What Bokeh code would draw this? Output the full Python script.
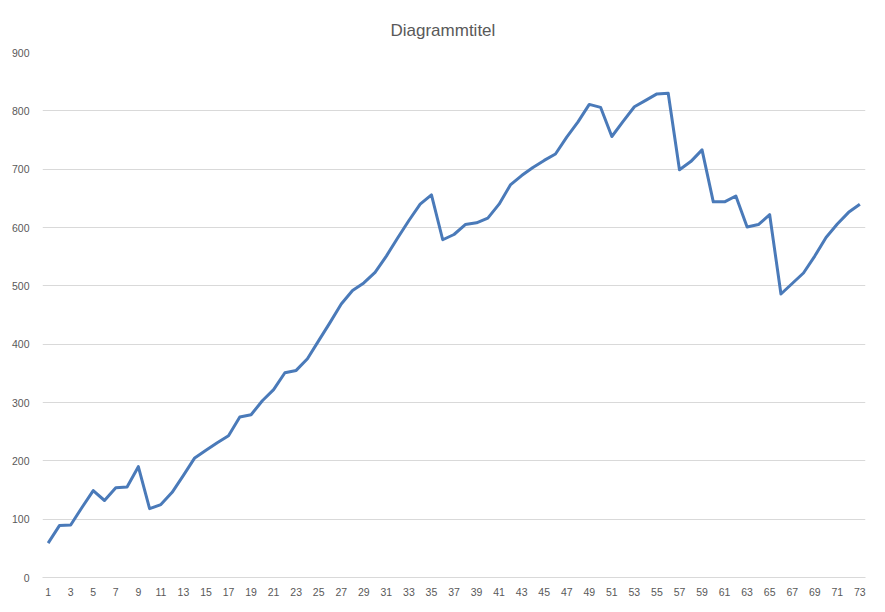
from bokeh.plotting import figure
from bokeh.models import FixedTicker, Range1d, Title
from bokeh.embed import file_html
from bokeh.resources import INLINE

# ---- data ----
categories = [1, 2, 3, 4, 5, 6, 7, 8, 9, 10, 11, 12, 13, 14, 15, 16, 17, 18, 19, 20,
              21, 22, 23, 24, 25, 26, 27, 28, 29, 30, 31, 32, 33, 34, 35, 36, 37, 38, 39, 40,
              41, 42, 43, 44, 45, 46, 47, 48, 49, 50, 51, 52, 53, 54, 55, 56, 57, 58, 59, 60,
              61, 62, 63, 64, 65, 66, 67, 68, 69, 70, 71, 72, 73]
values = [59, 89, 90, 120, 149, 132, 154, 155, 190, 118, 125, 146, 175, 205, 218, 231, 243, 275, 279, 303,
          322, 351, 355, 375, 406, 437, 469, 492, 505, 523, 551, 582, 612, 640, 656, 579, 588, 605, 608, 616,
          640, 673, 689, 703, 715, 726, 755, 781, 811, 806, 756, 782, 807, 818, 829, 830, 699, 713, 733, 644,
          644, 654, 601, 605, 622, 486, 504, 522, 551, 583, 606, 626, 640]
x_tick_labels = [1, 3, 5, 7, 9, 11, 13, 15, 17, 19, 21, 23, 25, 27, 29, 31, 33, 35, 37,
                 39, 41, 43, 45, 47, 49, 51, 53, 55, 57, 59, 61, 63, 65, 67, 69, 71, 73]
y_ticks = [0, 100, 200, 300, 400, 500, 600, 700, 800, 900]
title_text = "Diagrammtitel"

GRAY_TEXT = "#595959"
GRID = "#d9d9d9"
FONT = "Liberation Sans"

p = figure(width=880, height=605, output_backend="svg", toolbar_location=None,
           x_range=Range1d(0.5, 73.5), y_range=Range1d(0, 900),
           min_border_left=42, min_border_right=15, min_border_top=52, min_border_bottom=28)

p.title = Title(text=title_text, align="left", offset=348, text_font=FONT, text_font_size="17px",
                text_font_style="normal", text_color=GRAY_TEXT, standoff=26)

p.line(categories, values, line_color="#4a7ab9", line_width=3, line_join="round")

p.outline_line_color = None
p.background_fill_color = "white"
p.border_fill_color = "white"

p.xgrid.grid_line_color = None
p.ygrid.grid_line_color = GRID
p.ygrid.grid_line_width = 1

xa = p.xaxis[0]
xa.ticker = FixedTicker(ticks=x_tick_labels)
xa.axis_line_color = GRID
xa.major_tick_line_color = None
xa.minor_tick_line_color = None
xa.major_label_text_font = FONT
xa.major_label_text_font_size = "10.5px"
xa.major_label_text_color = GRAY_TEXT
xa.major_label_standoff = 4

ya = p.yaxis[0]
ya.ticker = FixedTicker(ticks=y_ticks)
ya.axis_line_color = None
ya.major_tick_line_color = None
ya.minor_tick_line_color = None
ya.major_label_text_font = FONT
ya.major_label_text_font_size = "10.5px"
ya.major_label_text_color = GRAY_TEXT
ya.major_label_standoff = 7

open("out.html", "w").write(file_html(p, INLINE))
